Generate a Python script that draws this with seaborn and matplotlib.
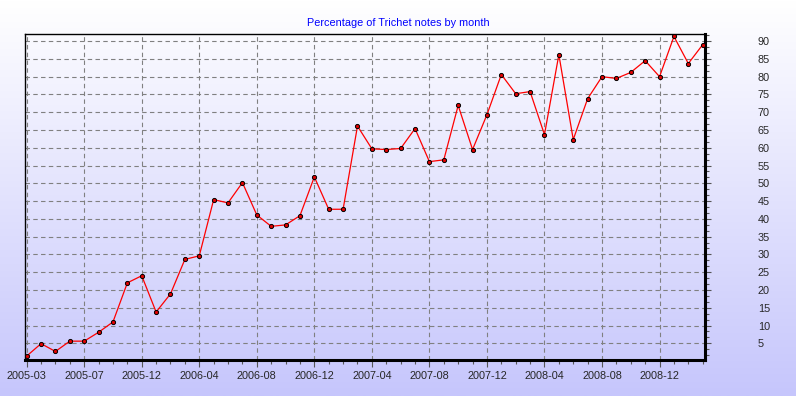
import numpy as np
import pandas as pd
import seaborn as sns
import matplotlib.pyplot as plt
from matplotlib.ticker import MultipleLocator, AutoMinorLocator

months = ["2005-03", "2005-04", "2005-05", "2005-06", "2005-07", "2005-09", "2005-10", "2005-11",
          "2005-12", "2006-01", "2006-02", "2006-03", "2006-04", "2006-05", "2006-06", "2006-07",
          "2006-08", "2006-09", "2006-10", "2006-11", "2006-12", "2007-01", "2007-02", "2007-03",
          "2007-04", "2007-05", "2007-06", "2007-07", "2007-08", "2007-09", "2007-10", "2007-11",
          "2007-12", "2008-01", "2008-02", "2008-03", "2008-04", "2008-05", "2008-06", "2008-07",
          "2008-08", "2008-09", "2008-10", "2008-11", "2008-12", "2009-01", "2009-02", "2009-03"]
pct = [1.4, 4.9, 2.7, 5.6, 5.6, 8.1, 11.0, 22.0,
       24.0, 13.8, 18.9, 28.6, 29.6, 45.4, 44.5, 50.2,
       41.1, 37.9, 38.3, 40.9, 51.8, 42.7, 42.7, 66.1,
       59.7, 59.5, 59.8, 65.4, 56.1, 56.6, 71.9, 59.5,
       69.3, 80.6, 75.2, 75.8, 63.7, 86.2, 62.3, 73.8,
       80.0, 79.5, 81.2, 84.5, 80.0, 91.3, 83.7, 89.0]

df = pd.DataFrame({"idx": range(len(months)), "month": months, "pct": pct})

sns.set_style("white")
plt.rcParams['font.family'] = ['Liberation Sans', 'DejaVu Sans']
fs = 7.8

fig = plt.figure(figsize=(7.96, 3.96), dpi=100)

# background gradient
bg = fig.add_axes([0, 0, 1, 1], zorder=-10)
grad = np.linspace(0, 1, 256).reshape(-1, 1)
top = np.array([1.0, 1.0, 1.0])
bot = np.array([198, 198, 252]) / 255
img = top + (bot - top) * grad[:, :, None]
bg.imshow(img, aspect='auto', extent=[0, 1, 0, 1])
bg.axis('off')

ax = fig.add_axes([24.5 / 796, 36 / 396, (705 - 24.5) / 796, (361 - 35) / 396])
ax.set_facecolor('none')

sns.lineplot(data=df, x="idx", y="pct", ax=ax, color='#ff0000', linewidth=0.9,
             marker='o', markersize=3, markerfacecolor='#e00000', markeredgecolor='black',
             markeredgewidth=0.7, zorder=3)

ax.set_xlim(-0.15, 47.16)
ax.set_xlabel("")
ax.set_ylabel("")

ax.set_xticks(df["idx"][::4])
ax.set_xticklabels(df["month"][::4], fontsize=fs)
ax.set_xticks(df["idx"], minor=True)

ax.yaxis.tick_right()
ax.set_yticks([v for v in range(5, 95, 5)])
ax.set_yticklabels([str(v) for v in range(5, 95, 5)], fontsize=fs, ha='left')
ax.yaxis.set_minor_locator(AutoMinorLocator(3))
ax.set_ylim(0.3, 92)

ax.tick_params(axis='x', which='major', direction='out', length=5, width=0.8, color='#555555', pad=3, bottom=True)
ax.tick_params(axis='x', which='minor', direction='out', length=3, width=0.8, color='#555555', bottom=True)
ax.tick_params(axis='y', which='major', direction='out', length=4, width=0.8, color='#555555', pad=34, right=True, left=False)
ax.tick_params(axis='y', which='minor', direction='out', length=3, width=0.8, color='#555555', right=True, left=False)

ax.grid(True, which='major', color='#808080', linestyle=(0, (4, 3)), linewidth=0.8)
ax.set_axisbelow(True)

for s in ['left', 'top']:
    ax.spines[s].set_linewidth(1.0)
    ax.spines[s].set_color('black')
for s in ['bottom', 'right']:
    ax.spines[s].set_linewidth(2.2)
    ax.spines[s].set_color('black')

fig.text(0.5, 1 - 22.5 / 396, "Percentage of Trichet notes by month", color='#0000ff',
         fontsize=fs, ha='center', va='center')

fig.savefig("out.png", dpi=100)
